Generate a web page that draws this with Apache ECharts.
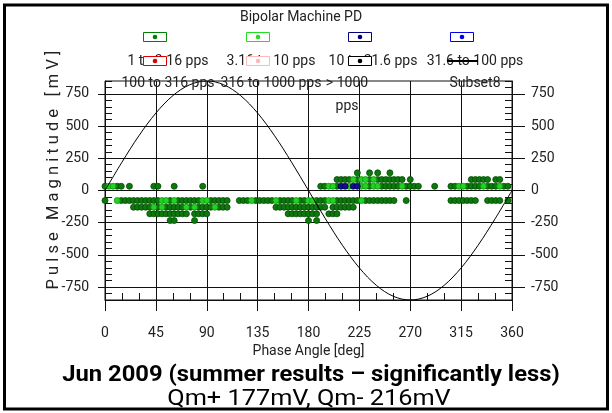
<!DOCTYPE html>
<html>
<head>
<meta charset="utf-8">
<script src="https://cdn.jsdelivr.net/npm/echarts@6/dist/echarts.min.js"></script>
<style>
  html, body { margin: 0; padding: 0; background: #fff; }
  #chart { width: 612px; height: 413px; }
</style>
</head>
<body>
<div id="chart"></div>
<script>
// ---- data ----------------------------------------------------------------
const chartTitle = 'Bipolar Machine PD';
const xAxisTitle = 'Phase Angle [deg]';
const yAxisTitle = 'P u l s e   M a g n i t u d e   [ m V ]';
const captionMain = 'Jun 2009 (summer results \u2013 significantly less)';
const captionSub = 'Qm+ 177mV, Qm- 216mV';

const magnitudeTicks = [-750, -500, -250, 0, 250, 500, 750];

const legendLabels = ['1 to 3.16 pps', '3.16 to 10 pps', '10 to 31.6 pps', '31.6 to 100 pps',
                      '100 to 316 pps', '316 to 1000 pps', '> 1000\npps', 'Subset8'];
const legendColors = ['#008000', '#22dd22', '#000080', '#0000ee',
                      '#dd0000', '#ffb8b8', '#000000', '#000000'];

// pulse counts per rate band: [magnitude mV, [phase angles deg]]
const pulses1to316 = [
  [137, [223.2, 234, 241.2, 252]],
  [85, [205.2, 208.8, 212.4, 216, 223.2, 234, 241.2, 244.8, 248.4, 252, 255.6, 259.2, 262.8, 270,
        324, 327.6, 331.2, 334.8, 338.4, 345.6, 349.2]],
  [33, [0, 10.8, 14.4, 21.6, 43.2, 46.8, 61.2, 86.4, 190.8, 194.4, 205.2, 234, 244.8, 248.4, 252,
        255.6, 259.2, 266.4, 270, 273.6, 277.2, 291.6, 306, 309.6, 320.4, 324, 327.6, 331.2, 338.4,
        342, 345.6, 352.8, 356.4]],
  [-78, [0, 14.4, 18, 21.6, 25.2, 28.8, 32.4, 36, 39.6, 43.2, 46.8, 57.6, 64.8, 68.4, 72, 75.6, 79.2,
         82.8, 93.6, 97.2, 100.8, 104.4, 108, 118.8, 122.4, 126, 133.2, 136.8, 140.4, 144, 147.6,
         154.8, 158.4, 162, 165.6, 172.8, 176.4, 187.2, 190.8, 194.4, 205.2, 208.8, 212.4, 216,
         219.6, 223.2, 230.4, 234, 237.6, 241.2, 244.8, 248.4, 252, 255.6, 266.4, 306, 309.6, 313.2,
         316.8, 320.4, 324, 327.6, 338.4, 342, 345.6, 349.2, 356.4]],
  [-130, [25.2, 28.8, 32.4, 36, 39.6, 46.8, 54, 57.6, 61.2, 64.8, 68.4, 75.6, 82.8, 86.4, 90, 93.6,
          100.8, 104.4, 108, 151.2, 154.8, 158.4, 162, 165.6, 169.2, 172.8, 176.4, 180, 183.6, 187.2,
          190.8, 194.4, 201.6, 205.2, 208.8, 212.4, 216, 219.6]],
  [-181, [39.6, 43.2, 46.8, 50.4, 54, 57.6, 61.2, 64.8, 68.4, 72, 79.2, 82.8, 86.4, 90, 162, 165.6,
          169.2, 172.8, 176.4, 180, 183.6, 187.2, 198, 201.6, 205.2]],
  [-233, [57.6, 61.2, 79.2, 180, 187.2]]
];
const pulses316to10 = [
  [85, [219.6, 226.8, 230.4, 237.6]],
  [33, [3.6, 7.2, 198, 201.6, 216, 226.8, 230.4, 237.6, 241.2, 262.8, 313.2, 316.8, 334.8, 349.2]],
  [-78, [10.8, 50.4, 54, 61.2, 86.4, 90, 129.6, 151.2, 169.2, 180, 183.6, 198, 201.6, 226.8]],
  [-130, [43.2, 50.4, 72, 79.2, 97.2]]
];
const pulses10to316 = [
  [33, [208.8, 212.4, 219.6, 223.2]]
];

// supply voltage reference (Subset8)
const referencePhase = [0, 15, 30, 45, 60, 75, 90, 105, 120, 135, 150, 165, 180,
                        195, 210, 225, 240, 255, 270, 285, 300, 315, 330, 345, 360];
const referenceVoltage = [0, 220, 425, 601, 736, 821, 850, 821, 736, 601, 425, 220, 0,
                          -220, -425, -601, -736, -821, -850, -821, -736, -601, -425, -220, 0];

// ---- helpers -------------------------------------------------------------
const FONT = 'Roboto, "Liberation Sans", sans-serif';
const flatten = rows => rows.flatMap(([mv, phases]) => phases.map(p => [p, mv]));
const referenceLine = referencePhase.map((p, i) => [p, referenceVoltage[i]]);

function dotSeries(name, rows, fill, border) {
  return {
    name, type: 'scatter', xAxisIndex: 0, yAxisIndex: 0,
    data: flatten(rows), symbol: 'circle', symbolSize: 6,
    itemStyle: { color: fill, borderColor: border, borderWidth: 0.8, opacity: 1 },
    emphasis: { disabled: true }, z: 3
  };
}

// legend: markers above their labels, two rows of four
const legendGraphics = [];
const colBox = [155, 258, 360, 462];
const rowBox = [37, 61];
const rowText = [58, 80];
legendLabels.forEach((label, i) => {
  const col = i % 4, row = Math.floor(i / 4);
  const bx = colBox[col];
  const tx = (i === 6) ? 347 : bx + 13;
  legendGraphics.push({
    type: 'text', z: 5,
    style: {
      text: label, x: tx, y: rowText[row] - 8, align: 'center', verticalAlign: 'top',
      font: '14px ' + FONT, fill: '#222', lineHeight: 23
    }
  });
});
legendLabels.forEach((label, i) => {
  const col = i % 4, row = Math.floor(i / 4);
  const bx = colBox[col], by = rowBox[row];
  if (i === 7) {
    legendGraphics.push({
      type: 'line', z: 6,
      shape: { x1: bx - 15, y1: by, x2: bx + 16, y2: by },
      style: { stroke: legendColors[i], lineWidth: 2 }
    });
    return;
  }
  legendGraphics.push({
    type: 'rect', z: 6,
    shape: { x: bx - 11.5, y: by - 4.5, width: 23, height: 9 },
    style: { fill: '#fff', stroke: legendColors[i], lineWidth: 1 }
  });
  legendGraphics.push({
    type: 'circle', z: 7,
    shape: { cx: bx, cy: by, r: 2.3 },
    style: { fill: legendColors[i] }
  });
});

const chart = echarts.init(document.getElementById('chart'), null, { renderer: 'canvas' });

const axisBlack = { color: '#111', width: 1 };
const tickLabelFont = { fontFamily: FONT, fontSize: 14, color: '#222' };
const labelAtMajor = v => (v % 250 === 0 && Math.abs(v) <= 750) ? String(v) : '';

chart.setOption({
  animation: false,
  backgroundColor: '#fff',
  grid: { left: 105, right: 100, top: 81, bottom: 113, show: true, borderColor: '#111', borderWidth: 1 },
  xAxis: [
    { // minor ticks every 15 deg
      type: 'value', min: 0, max: 360, interval: 15, position: 'bottom',
      axisLine: { show: true, onZero: false, lineStyle: axisBlack },
      axisTick: { show: true, inside: true, length: 7, lineStyle: axisBlack },
      axisLabel: { show: false }, splitLine: { show: false }
    },
    { // major divisions every 45 deg
      type: 'value', min: 0, max: 360, interval: 45, position: 'bottom',
      axisLine: { show: false, onZero: false },
      axisTick: { show: true, inside: false, length: 11, lineStyle: axisBlack },
      axisLabel: Object.assign({ margin: 26 }, tickLabelFont),
      splitLine: { show: true, lineStyle: axisBlack },
      name: xAxisTitle, nameLocation: 'middle', nameGap: 44,
      nameTextStyle: { fontFamily: FONT, fontSize: 14, color: '#222' }
    }
  ],
  yAxis: [
    { // left minor ticks every 50 mV with major labels
      type: 'value', min: -850, max: 850, interval: 50, position: 'left',
      axisLine: { show: true, onZero: false, lineStyle: axisBlack },
      axisTick: { show: true, inside: true, length: 7, lineStyle: axisBlack },
      axisLabel: Object.assign({ margin: 16, formatter: labelAtMajor, padding: [11, 0, 0, 0] }, tickLabelFont),
      splitLine: { show: false }
    },
    { // left major ticks and grid lines
      type: 'value', min: -850, max: 850, position: 'left',
      axisLine: { show: false, onZero: false },
      axisTick: { show: true, inside: false, length: 7, lineStyle: axisBlack, customValues: magnitudeTicks },
      axisLabel: { show: false },
      splitLine: { show: true, lineStyle: axisBlack }
    },
    { // right minor ticks every 50 mV with major labels
      type: 'value', min: -850, max: 850, interval: 50, position: 'right',
      axisLine: { show: true, onZero: false, lineStyle: axisBlack },
      axisTick: { show: true, inside: true, length: 7, lineStyle: axisBlack },
      axisLabel: Object.assign({ margin: 19, formatter: labelAtMajor, padding: [11, 0, 0, 0] }, tickLabelFont),
      splitLine: { show: false }
    },
    { // right major ticks
      type: 'value', min: -850, max: 850, position: 'right',
      axisLine: { show: false, onZero: false },
      axisTick: { show: true, inside: false, length: 13, lineStyle: axisBlack, customValues: magnitudeTicks },
      axisLabel: { show: false },
      splitLine: { show: false }
    }
  ],
  series: [
    dotSeries(legendLabels[0], pulses1to316, '#0b7a0b', '#044a04'),
    dotSeries(legendLabels[1], pulses316to10, '#22d422', '#0f8f0f'),
    dotSeries(legendLabels[2], pulses10to316, '#101088', '#000050'),
    {
      name: legendLabels[7], type: 'line', xAxisIndex: 0, yAxisIndex: 0,
      data: referenceLine, smooth: 0.35, showSymbol: false, clip: true,
      lineStyle: { color: '#000', width: 1 }, emphasis: { disabled: true }, z: 4
    }
  ],
  graphic: [
    {
      type: 'rect', z: 10, silent: true,
      shape: { x: 4.5, y: 5, width: 603, height: 404 },
      style: { fill: 'none', stroke: '#000', lineWidth: 3 }
    },
    {
      type: 'text', z: 5,
      style: { text: chartTitle, x: 301, y: 17, align: 'center', verticalAlign: 'middle',
               font: '14px ' + FONT, fill: '#222' }
    },
    {
      type: 'text', z: 5, rotation: Math.PI / 2, x: 54, y: 170,
      style: { text: yAxisTitle, x: 0, y: 0, align: 'center', verticalAlign: 'middle',
               font: '16.5px ' + FONT, fill: '#222' }
    },
    {
      type: 'text', z: 5, x: 311, y: 375, scaleX: 1.08,
      style: { text: captionMain, x: 0, y: 0, align: 'center', verticalAlign: 'middle',
               font: 'bold 22px Roboto, "Noto Sans", sans-serif', fill: '#000' }
    },
    {
      type: 'text', z: 5, x: 309, y: 399, scaleX: 1.15,
      style: { text: captionSub, x: 0, y: 0, align: 'center', verticalAlign: 'middle',
               font: '22px Roboto, "Noto Sans", sans-serif', fill: '#000' }
    }
  ].concat(legendGraphics)
});
</script>
</body>
</html>
